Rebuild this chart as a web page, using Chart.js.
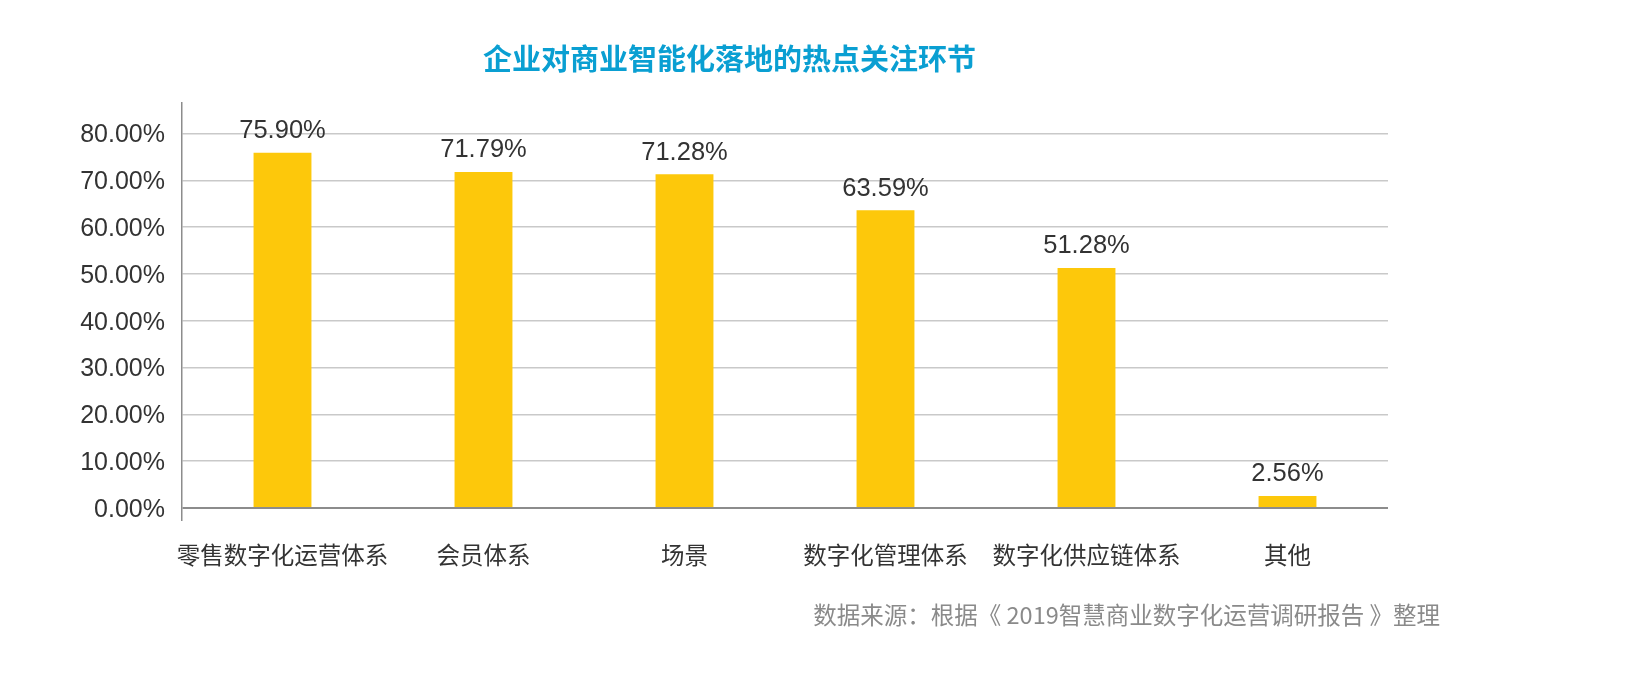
<!DOCTYPE html>
<html>
<head>
<meta charset="utf-8">
<script src="https://cdn.jsdelivr.net/npm/chart.js@4/dist/chart.umd.min.js"></script>
<style>
  html, body { margin:0; padding:0; background:#fff; }
  #wrap { position:relative; width:1641px; height:681px; }
  #title { position:absolute; left:483px; top:42px; font:bold 29px/30px "Noto Sans CJK SC", sans-serif; color:#0a9fd2; white-space:nowrap; }
  #source { position:absolute; right:201px; top:602px; font:23.5px/24px "Noto Sans CJK SC", sans-serif; color:#8a8a8a; white-space:nowrap; }
</style>
</head>
<body>
<div id="wrap">
  <canvas id="chart" width="1641" height="681"></canvas>
  <div id="title">企业对商业智能化落地的热点关注环节</div>
  <div id="source">数据来源：根据《 2019智慧商业数字化运营调研报告 》整理</div>
</div>
<script>
const categories = ['零售数字化运营体系', '会员体系', '场景', '数字化管理体系', '数字化供应链体系', '其他'];
const values = [75.90, 71.79, 71.28, 63.59, 51.28, 2.56];
const yTicks = [0, 10, 20, 30, 40, 50, 60, 70, 80];

// value labels above the bars
const barLabels = {
  id:'barLabels',
  afterDatasetsDraw(chart){
    const ctx = chart.ctx;
    const meta = chart.getDatasetMeta(0);
    ctx.save();
    ctx.font = '25.5px "Liberation Sans", Arial, sans-serif';
    ctx.fillStyle = '#333';
    ctx.textAlign = 'center';
    ctx.textBaseline = 'bottom';
    meta.data.forEach((bar, i) =>{
      ctx.fillText(values[i].toFixed(2) + '%', bar.x, bar.y - 9);
    });
    ctx.restore();
  }
};

const ctx = document.getElementById('chart').getContext('2d');
new Chart(ctx, {
  type:'bar',
  data:{labels:categories, datasets:[{data:values, backgroundColor:'#fdc80b', barPercentage:0.288, categoryPercentage:1}]},
  options:{
    responsive:false,
    animation:false,
    layout:{padding:{left:0, right:253, top:103, bottom:0}},
    plugins:{legend:{display:false}, tooltip:{enabled:false}},
    scales:{
      x:{
        grid:{display:false},
        border:{display:false},
        ticks:{color:'#333', font:{family:'"Noto Sans CJK SC", sans-serif', size:23.5}, padding:13, maxRotation:0, minRotation:0, autoSkip:false},
        afterFit(scale){ scale.height = 161; }
      },
      y:{
        min:-2.56, max:86.5,
        afterBuildTicks(scale){ scale.ticks = yTicks.map(v => ({value:v})); },
        afterFit(scale){ scale.width = 182; },
        border:{display:true, color:'#8c8c8c', width:1.5},
        grid:{drawTicks:false, color:c => c.tick && c.tick.value === 0 ? '#8c8c8c' : '#c9c9c9', lineWidth:c => c.tick && c.tick.value === 0 ? 2 : 1.5},
        ticks:{color:'#333', padding:17, labelOffset:2, font:{family:'"Liberation Sans", Arial, sans-serif', size:25}, callback:v => v.toFixed(2) + '%'}
      }
    }
  },
  plugins:[barLabels]
});
</script>
</body>
</html>
